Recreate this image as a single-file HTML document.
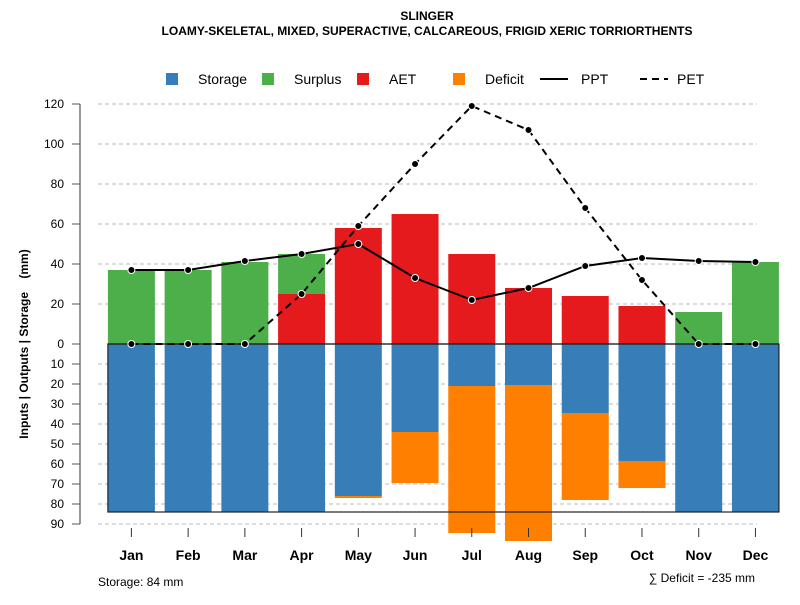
<!DOCTYPE html>
<html><head><meta charset="utf-8"><style>
body{margin:0;background:#fff;font-family:"Liberation Sans",sans-serif}
svg text{font-family:"Liberation Sans",sans-serif}
</style></head><body>
<svg id="c" width="800" height="600" viewBox="0 0 800 600">
<text x="427" y="20" text-anchor="middle" font-size="12" font-weight="bold">SLINGER</text>
<text x="427" y="35" text-anchor="middle" font-size="12" font-weight="bold">LOAMY-SKELETAL, MIXED, SUPERACTIVE, CALCAREOUS, FRIGID XERIC TORRIORTHENTS</text>
<g>
<rect x="166" y="73" width="12" height="12" fill="#377eb8"/>
<text x="198" y="84" font-size="14">Storage</text>
<rect x="262" y="73" width="12" height="12" fill="#4daf4a"/>
<text x="294" y="84" font-size="14">Surplus</text>
<rect x="357" y="73" width="12" height="12" fill="#e41a1c"/>
<text x="389" y="84" font-size="14">AET</text>
<rect x="453" y="73" width="12" height="12" fill="#ff7f00"/>
<text x="485" y="84" font-size="14">Deficit</text>
<line x1="540" y1="79" x2="568" y2="79" stroke="#000" stroke-width="2"/>
<text x="581" y="84" font-size="14">PPT</text>
<line x1="640" y1="79" x2="668" y2="79" stroke="#000" stroke-width="2" stroke-dasharray="7,5"/>
<text x="677" y="84" font-size="14">PET</text>
</g>
<text transform="translate(28,344) rotate(-90)" text-anchor="middle" font-size="12" font-weight="bold">Inputs | Outputs | Storage&#160;&#160;&#160;&#160;(mm)</text>
<text x="98" y="586" font-size="12">Storage: 84 mm</text>
<text x="755" y="582" text-anchor="end" font-size="12">∑ Deficit = -235 mm</text>
</svg>
<script>
const months=["Jan","Feb","Mar","Apr","May","Jun","Jul","Aug","Sep","Oct","Nov","Dec"];
const aet=[0,0,0,25,58,65,45,28,24,19,0,0];
const surplus=[37,37,41,20,0,0,0,0,0,0,16,41];
const storage=[84,84,84,84,76,44,21,20.5,34.5,58.5,84,84];
const deficit=[0,0,0,0,1,25.5,73.5,78,43.5,13.5,0,0];
const ppt=[37,37,41.5,45,50,33,22,28,39,43,41.5,41];
const pet=[0,0,0,25,59,90,119,107,68,32,0,0];
const upTicks=[0,20,40,60,80,100,120];
const lowTicks=[10,20,30,40,50,60,70,80,90];
const storageCap=84;
const svg=document.getElementById('c');
const NS="http://www.w3.org/2000/svg";
const y0=344, k=2;
const yUp=v=>y0-k*v, yLow=v=>y0+k*v;
const xC=i=>131.4+i*56.73;
const bw=47;
function mk(t,a,p){const e=document.createElementNS(NS,t);for(const n in a)e.setAttribute(n,a[n]);(p||svg).appendChild(e);return e;}
const grid=mk('g',{});


upTicks.forEach(v=>{if(v>0){const l=mk('line',{x1:98,x2:757,y1:yUp(v),y2:yUp(v),stroke:'#bbb','stroke-dasharray':'4,3'},grid);}});
lowTicks.forEach(v=>{const l=mk('line',{x1:98,x2:757,y1:yLow(v),y2:yLow(v),stroke:'#bbb','stroke-dasharray':'4,3'},grid);});
const bars=mk('g',{});


months.forEach((m,i)=>{
  const x=xC(i)-bw/2;
  let r;
  if(aet[i]>0){r=mk('rect',{x:x,y:yUp(aet[i]),width:bw,height:k*aet[i],fill:'#e41a1c'},bars);}
  if(surplus[i]>0){r=mk('rect',{x:x,y:yUp(aet[i]+surplus[i]),width:bw,height:k*surplus[i],fill:'#4daf4a'},bars);}
  r=mk('rect',{x:x,y:y0,width:bw,height:k*storage[i],fill:'#377eb8'},bars);
  if(deficit[i]>0){r=mk('rect',{x:x,y:yLow(storage[i]),width:bw,height:k*deficit[i],fill:'#ff7f00'},bars);}
});
const frame=mk('rect',{x:xC(0)-bw/2,y:y0,width:xC(11)+bw/2-(xC(0)-bw/2),height:k*storageCap,fill:'none',stroke:'#222','stroke-width':1.2});


const ax=mk('g',{});


mk('line',{x1:80,x2:80,y1:yUp(120),y2:yLow(90),stroke:'#555','stroke-width':1.2},ax);
upTicks.forEach(v=>{mk('line',{x1:72,x2:80,y1:yUp(v),y2:yUp(v),stroke:'#555'},ax);const t=mk('text',{x:64,y:yUp(v)+4,'text-anchor':'end','font-size':12},ax);t.textContent=v;});
lowTicks.forEach(v=>{mk('line',{x1:72,x2:80,y1:yLow(v),y2:yLow(v),stroke:'#555'},ax);const t=mk('text',{x:64,y:yLow(v)+4,'text-anchor':'end','font-size':12},ax);t.textContent=v;});
const xa=mk('g',{});


months.forEach((m,i)=>{mk('line',{x1:xC(i),x2:xC(i),y1:528,y2:537,stroke:'#333'},xa);const t=mk('text',{x:xC(i),y:560,'text-anchor':'middle','font-size':14,'font-weight':'bold'},xa);t.textContent=m;});
mk('line',{x1:xC(0)-bw/2,x2:xC(11)+bw/2,y1:y0,y2:y0,stroke:'#222','stroke-width':1.2});
function series(vals,dash,name){
  const g=mk('g',{});
  
  
  const p=mk('polyline',{points:vals.map((v,i)=>xC(i)+','+yUp(v)).join(' '),fill:'none',stroke:'#000','stroke-width':2,'stroke-dasharray':dash},g);
  vals.forEach((v,i)=>{const c=mk('circle',{cx:xC(i),cy:yUp(v),r:3.5,fill:'#000',stroke:'#fff','stroke-width':1},g);});
}
series(pet,'7,5','pet-line');
series(ppt,'none','ppt-line');
</script>
</body></html>
